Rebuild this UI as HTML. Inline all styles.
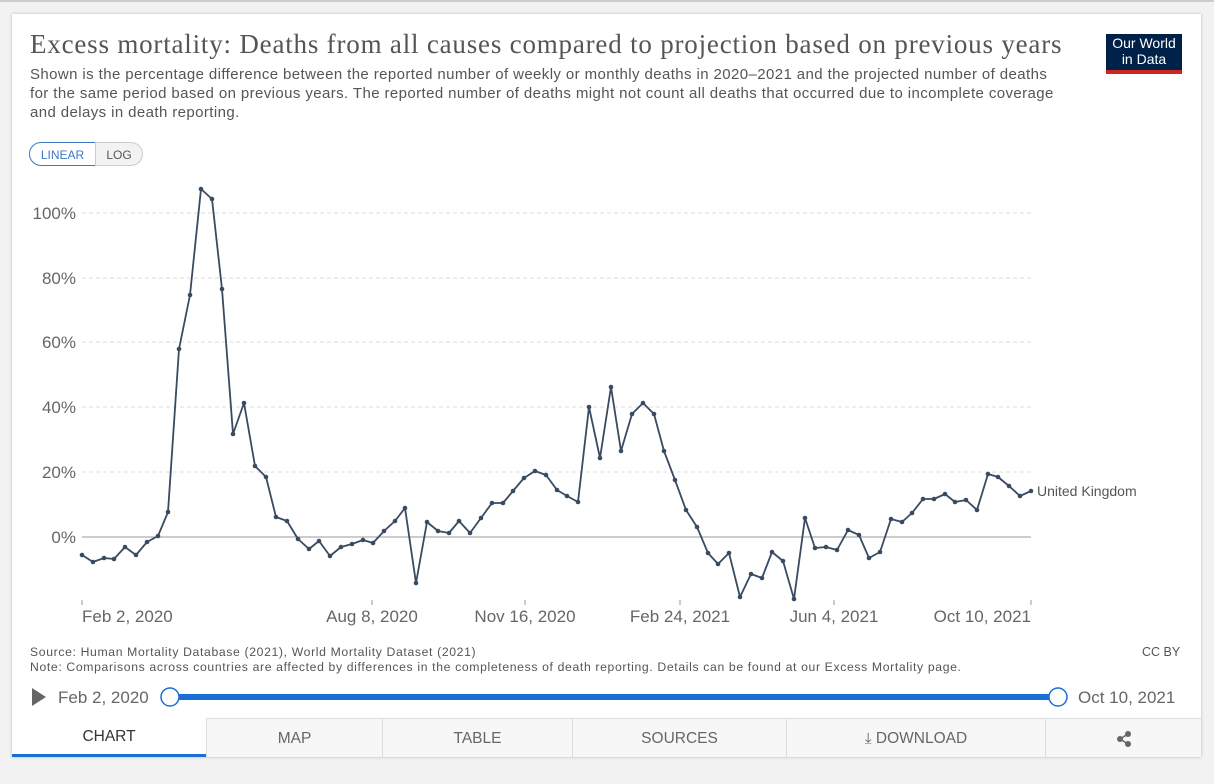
<!DOCTYPE html>
<html><head><meta charset="utf-8"><style>
body{margin:0;width:1214px;height:784px;background:#f2f2f2;font-family:"Liberation Sans",sans-serif;position:relative;overflow:hidden}
.card{position:absolute;left:12px;top:14px;width:1189px;height:743px;background:#fff;box-shadow:0 0 3px rgba(0,0,0,.25)}
.t{position:absolute;left:30px;top:29px;font-family:"Liberation Serif",serif;font-size:27px;letter-spacing:0.8px;color:#555;white-space:nowrap}
.s{position:absolute;left:30px;top:65px;font-size:15px;letter-spacing:0.4px;line-height:19px;color:#555;width:1032px}
.logo{position:absolute;left:1106px;top:34px;width:76px;height:40px;background:#002147;color:#fff;font-size:14px;line-height:16px;text-align:center;border-bottom:4px solid #ce261e;padding-top:1px;box-sizing:border-box}
.btn{position:absolute;top:142px;height:24px;font-size:12px;line-height:24px;text-align:center;box-sizing:border-box}
.foot{position:absolute;left:30px;top:645px;font-size:12.2px;letter-spacing:0.65px;color:#555;line-height:15px;white-space:nowrap}
.tabs{position:absolute;left:12px;top:718px;width:1189px;height:39px;display:flex;font-size:15.5px;color:#666}
.tabs div{background:#f7f7f7;border-left:1px solid #ddd;border-top:1px solid #ddd;display:flex;align-items:center;justify-content:center;box-sizing:border-box;padding-top:2px}
</style></head><body>
<div class="card"></div>
<div style="position:absolute;left:0;top:0;width:1214px;height:2px;background:#ccc"></div>
<div class="t">Excess mortality: Deaths from all causes compared to projection based on previous years</div>
<div class="s">Shown is the percentage difference between the reported number of weekly or monthly deaths in 2020–2021 and the projected number of deaths for the same period based on previous years. The reported number of deaths might not count all deaths that occurred due to incomplete coverage and delays in death reporting.</div>
<div class="logo">Our World<br>in Data</div>
<div class="btn" style="left:29px;width:67px;border:1px solid #3f77c0;color:#3f77c0;border-radius:12px 0 0 12px;background:#fff">LINEAR</div>
<div class="btn" style="left:95px;width:48px;border:1px solid #ccc;color:#555;border-radius:0 12px 12px 0;background:#f2f2f2">LOG</div>
<svg style="position:absolute;left:0;top:0" width="1214" height="784">
<g stroke="#ddd" stroke-dasharray="4,3" stroke-width="1">
<line x1="82" x2="1031" y1="213" y2="213"/><line x1="82" x2="1031" y1="278" y2="278"/><line x1="82" x2="1031" y1="342" y2="342"/><line x1="82" x2="1031" y1="407" y2="407"/><line x1="82" x2="1031" y1="472" y2="472"/></g>
<line x1="82" x2="1031" y1="537" y2="537" stroke="#999"/>
<g font-size="17" fill="#666" text-anchor="end"><text x="76" y="219">100%</text><text x="76" y="284">80%</text><text x="76" y="348">60%</text><text x="76" y="413">40%</text><text x="76" y="478">20%</text><text x="76" y="543">0%</text></g>
<g stroke="#999"><line x1="82" x2="82" y1="600" y2="605"/><line x1="372" x2="372" y1="600" y2="605"/><line x1="525" x2="525" y1="600" y2="605"/><line x1="680" x2="680" y1="600" y2="605"/><line x1="834" x2="834" y1="600" y2="605"/><line x1="1031" x2="1031" y1="600" y2="605"/></g>
<g font-size="17" fill="#666"><text x="82" y="622">Feb 2, 2020</text><text x="372" y="622" text-anchor="middle">Aug 8, 2020</text><text x="525" y="622" text-anchor="middle">Nov 16, 2020</text><text x="680" y="622" text-anchor="middle">Feb 24, 2021</text><text x="834" y="622" text-anchor="middle">Jun 4, 2021</text><text x="1031" y="622" text-anchor="end">Oct 10, 2021</text></g>
<polyline id="p" fill="none" stroke="#394b60" stroke-width="1.8" stroke-linejoin="round" points="82,555 93,562 104,558 114,559 125,547 136,555 147,542 158,536 168,512 179,349 190,295 201,189 212,199 222,289 233,434 244,403 255,466 266,477 276,517 287,521 298,539 309,549 319,541 330,556 341,547 352,544 363,540 373,543 384,531 395,521 405,508 416,583 427,522 438,531 449,533 459,521 470,533 481,518 492,503 503,503 513,491 524,478 535,471 546,475 557,490 567,496 578,502 589,407 600,458 611,387 621,451 632,414 643,403 654,414 664,451 675,480 686,510 697,527 708,553 718,564 729,553 740,597 751,574 762,578 772,552 783,561 794,599 805,518 815,548 826,547 837,550 848,530 859,535 869,558 880,552 891,519 902,522 912,513 923,499 934,499 945,494 955,502 966,500 977,510 988,474 998,477 1009,486 1020,496 1031,491"/>
<g id="d" fill="#394b60"></g>
<text x="1037" y="496" font-size="14" fill="#555">United Kingdom</text>
<polygon points="32,688 32,706 46,697" fill="#666"/>
<text x="58" y="703" font-size="17" fill="#666">Feb 2, 2020</text>
<text x="1078" y="703" font-size="17" fill="#666">Oct 10, 2021</text>
<rect x="170" y="694" width="888" height="6" rx="3" fill="#1a6fd6"/>
<circle cx="170" cy="697" r="9" fill="#fff" stroke="#1a6fd6" stroke-width="1.5"/>
<circle cx="1058" cy="697" r="9" fill="#fff" stroke="#1a6fd6" stroke-width="1.5"/>
</svg>
<div class="foot">Source: Human Mortality Database (2021), World Mortality Dataset (2021)<br>Note: Comparisons across countries are affected by differences in the completeness of death reporting. Details can be found at our Excess Mortality page.</div>
<div style="position:absolute;left:1142px;top:645px;font-size:12.5px;color:#555">CC BY</div>
<div class="tabs">
<div style="width:194px;background:#fff;border-left:none;border-top:none;border-bottom:3px solid #1a6fd6;color:#333">CHART</div>
<div style="width:176px">MAP</div>
<div style="width:190px">TABLE</div>
<div style="width:214px">SOURCES</div>
<div style="width:259px">⤓ DOWNLOAD</div>
<div style="width:156px"><svg width="16" height="16" viewBox="0 0 16 16"><g stroke="#666" stroke-width="1.5"><line x1="4" y1="8" x2="12" y2="3"/><line x1="4" y1="8" x2="12" y2="13"/></g><g fill="#666"><circle cx="4" cy="8" r="3"/><circle cx="12" cy="3" r="3"/><circle cx="12" cy="13" r="3"/></g></svg></div>
</div>
<script>
var pts=document.getElementById('p').getAttribute('points').trim().split(/\s+/),g=document.getElementById('d');
pts.forEach(function(s){var a=s.split(',');var c=document.createElementNS('http://www.w3.org/2000/svg','circle');c.setAttribute('cx',a[0]);c.setAttribute('cy',a[1]);c.setAttribute('r','2.3');g.appendChild(c);});
</script>
</body></html>
